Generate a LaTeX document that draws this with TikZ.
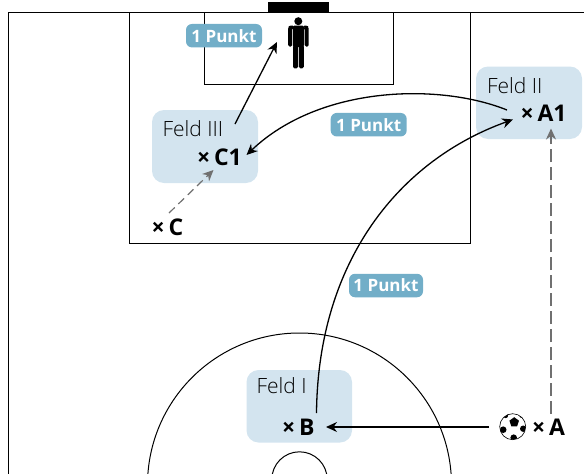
\documentclass[tikz,border=0pt]{standalone}
\usepackage{fontspec}
\setmainfont{Open Sans}
\newfontfamily\lightfont{Open Sans Light}
\usetikzlibrary{arrows.meta}
\definecolor{feldblue}{HTML}{D3E4EF}
\definecolor{badgeblue}{HTML}{72AEC8}
\definecolor{dashgray}{HTML}{707070}
\begin{document}
\begin{tikzpicture}[x=1pt,y=-1pt,>={Stealth[length=11pt,width=10pt]},
thick, line width=1.1pt,
line/.style={draw=black,line width=1pt},
feld/.style={fill=feldblue,rounded corners=12pt},
feld name/.style={font=\lightfont\fontsize{21}{21}\selectfont,text=black,inner sep=0pt},
spot/.style={font=\fontsize{23}{23}\bfseries\selectfont,inner sep=0pt},
badge/.style={fill=badgeblue,rounded corners=6pt,text=white,font=\fontsize{17}{17}\bfseries\selectfont,
  minimum width=76pt,minimum height=23.5pt,inner sep=0pt},
pass/.style={->,black,line width=1.3pt},
run/.style={->,dashgray,line width=1.2pt}]
\useasboundingbox (0,0) rectangle (584,474);
\clip (0,0) rectangle (584,474);

% pitch lines
  \draw[line] (8,474) -- (8,12.5) -- (584,12.5);
  \draw[line] (129,12.5) -- (129,243.4) -- (470,243.4) -- (470,12.5);
  \draw[line] (204.5,12.5) -- (204.5,84.4) -- (393.5,84.4) -- (393.5,12.5);
  \fill (268,2) rectangle (329,12.5);
  \draw[line] (299.5,485) circle (152);
  \draw[line] (299.5,479.5) circle (27.7);

% fields
  \fill[feld] (152,110) rectangle (258,183);
  \fill[feld] (476,66.5) rectangle (582,139);
  \fill[feld] (246.5,370) rectangle (352,442.5);

  \node[feld name,anchor=base west] (feld3) at (162,136.5) {Feld III};
  \node[feld name,anchor=base west] (feld2) at (486.5,93) {Feld II};
  \node[feld name,anchor=base west] (feld1) at (256,393.5) {Feld I};

% spots
  \node[spot,anchor=base west] (c1) at (196.5,165.5) {×\,C1};
  \node[spot,anchor=base west] (a1) at (520,121) {×\,A1};
  \node[spot,anchor=base west] (b) at (281.5,435.5) {×\,B};
  \node[spot,anchor=base west] (a) at (531.5,435) {×\,A};
  \node[spot,anchor=base west] (c) at (151,235) {×\,C};

% points
  \node[badge] (punkt1) at (224,35.7) {1 Punkt};
  \node[badge] (punkt2) at (368.7,124.7) {1 Punkt};
  \node[badge,minimum width=74pt] (punkt3) at (386,285.5) {1 Punkt};

% keeper
  \begin{scope}[rounded corners=1.5pt]
    \fill (298.3,21.2) circle (4);
    \fill (292.9,25.5) rectangle (303.9,47);
    \fill (293,45) rectangle (298,68.3);
    \fill (298.8,45) rectangle (303.9,68.3);
    \fill (288.2,27) -- (289.5,25.5) -- (294,25.5) -- (294,28) -- (292.2,28) -- (292.2,46.7) -- (288.2,46.7) -- cycle;
    \fill (308.6,27) -- (307.3,25.5) -- (303,25.5) -- (303,28) -- (304.7,28) -- (304.7,46.7) -- (308.6,46.7) -- cycle;
  \end{scope}

% ball
  \node[circle,draw=black,fill=white,line width=.6pt,minimum size=26pt,inner sep=0pt] (ball) at (512.7,426.7) {};
  \begin{scope}
    \clip (ball.center) circle (13);
    \fill (ball.center) ++(1.5,-4.5) +(-90:5) -- +(-18:5) -- +(54:5) -- +(126:5) -- +(198:5) -- cycle;
    \foreach \dx/\dy/\rad in {-9.5/3/3.3,10.5/2/3.2,1/11/3.3,-7/-11/2.4,9/-11/2.2}
      \fill (ball.center) +(\dx,\dy) circle (\rad);
  \end{scope}

% coordinates for connector ends
  \coordinate (c1 out) at (235,124);
  \coordinate (keeper in) at (277,42);
  \coordinate (a1 out) at (507,110);
  \coordinate (c1 in) at (246.5,155);
  \coordinate (b out) at (316.5,413);
  \coordinate (a1 in) at (513,119.5);
  \coordinate (ball out) at (489,427);
  \coordinate (b in) at (326,427);
  \coordinate (a out) at (551,414);
  \coordinate (a1 below) at (551,128.5);
  \coordinate (c out) at (169,213);
  \coordinate (c1 below) at (213.5,170);

% passes
  \draw[pass] (c1 out) -- (keeper in);
  \draw[pass] (a1 out) .. controls (440,83) and (320,85) .. (c1 in);
  \draw[pass] (b out) .. controls (318,260) and (400,160) .. (a1 in);
  \draw[pass] (ball out) -- (b in);

% runs
  \draw[run,dash pattern=on 13pt off 5pt] (a out) -- (a1 below);
  \draw[run,dash pattern=on 8pt off 5pt] (c out) -- (c1 below);

\end{tikzpicture}
\end{document}
